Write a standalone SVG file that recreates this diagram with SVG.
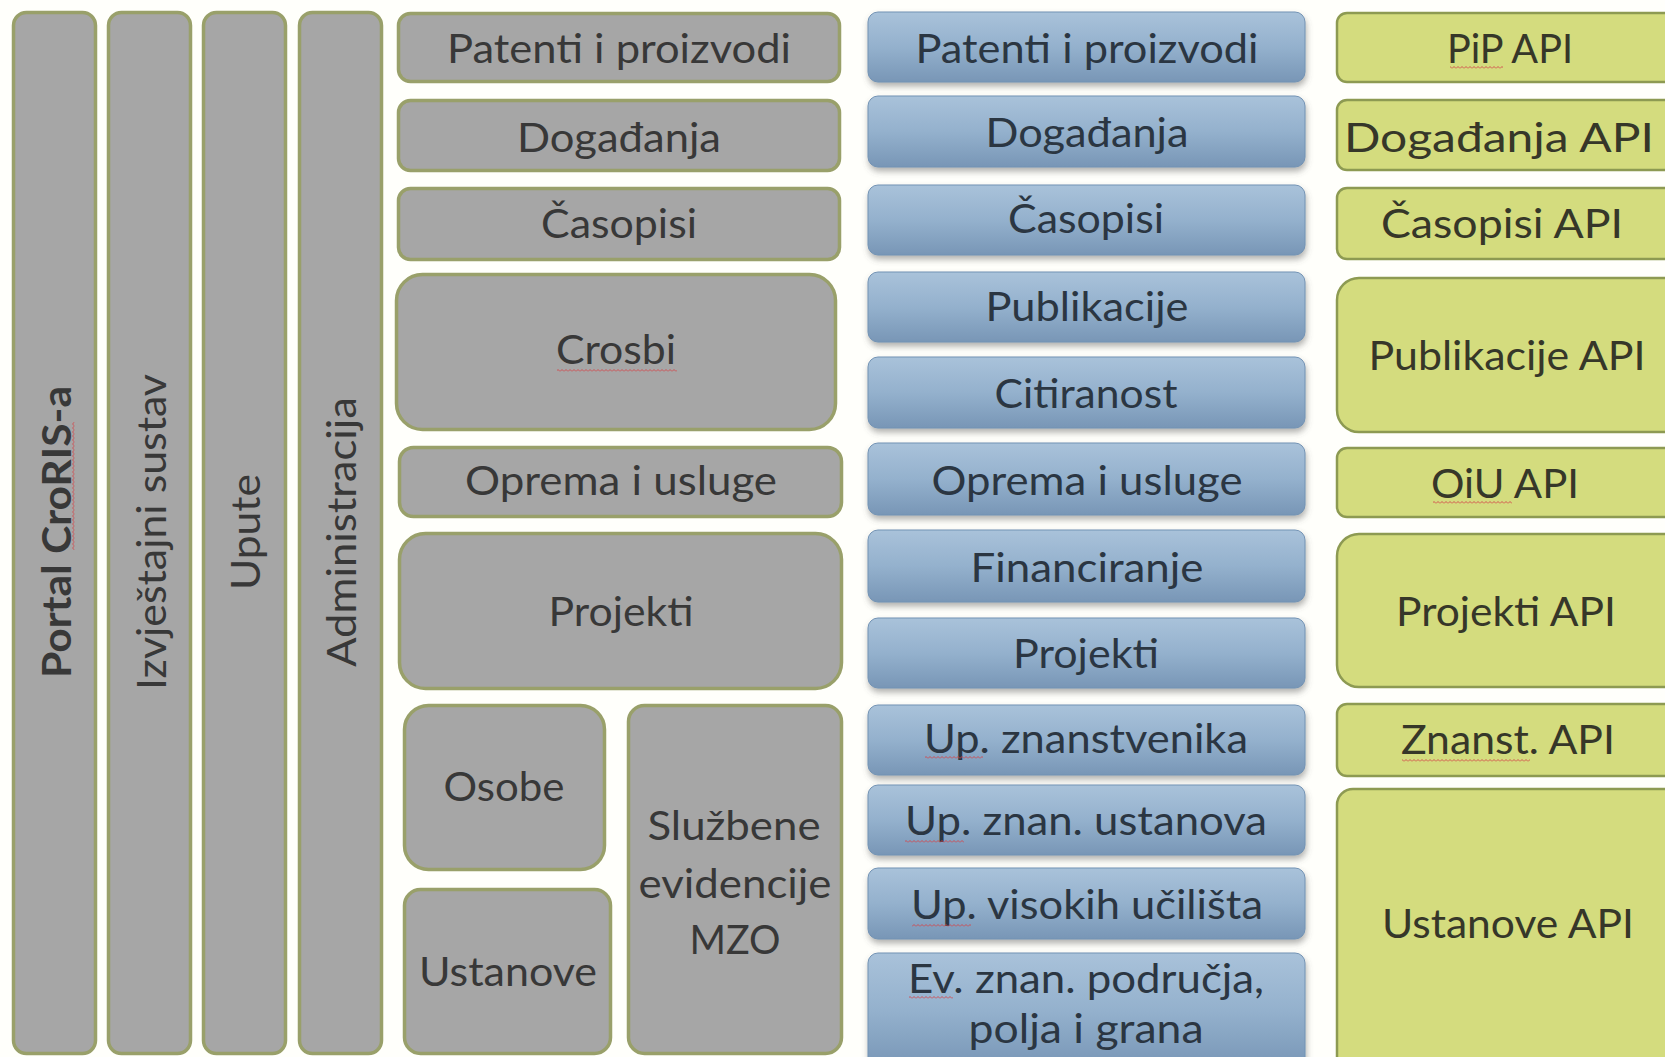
<svg xmlns="http://www.w3.org/2000/svg" width="1665" height="1057" viewBox="0 0 1665 1057">
<defs>
<style>
.g{fill:#a6a6a6;stroke:#99a06a;stroke-width:3.5}
.b{fill:url(#bg);stroke:#7393b4;stroke-width:1;filter:url(#sh)}
.y{fill:#d4dc7e;stroke:#8d9a52;stroke-width:2.5}
text{font-family:Lato,"Open Sans","Liberation Sans",sans-serif;font-size:41px;text-anchor:middle}
.tg{fill:#383838}
.tb{fill:#2b3642}
.ty{fill:#363729}
.sq{fill:url(#sqp)}
</style>
<linearGradient id="bg" x1="0" y1="0" x2="0" y2="1">
<stop offset="0" stop-color="#a9c2da"/>
<stop offset="0.5" stop-color="#94b1cd"/>
<stop offset="1" stop-color="#7896b6"/>
</linearGradient>
<filter id="sh" x="-5%" y="-10%" width="110%" height="130%">
<feDropShadow dx="1" dy="4" stdDeviation="3" flood-color="#555" flood-opacity="0.45"/>
</filter>
<pattern id="sqp" width="4" height="3" patternUnits="userSpaceOnUse">
<path d="M0 2.5 L2 0.5 L4 2.5" stroke="#d4454a" fill="none" stroke-width="0.9"/>
</pattern>
</defs>
<rect x="0" y="0" width="1665" height="1057" fill="#fffffb"/>
<g id="connectors"/>

<g id="portal"><rect class="g" x="13.5" y="12.5" width="82" height="1041" rx="13"/>
<text class="tg" transform="translate(71,532) rotate(-90)" font-weight="bold" textLength="292" lengthAdjust="spacingAndGlyphs">Portal CroRIS-a</text>
<rect class="sq" transform="translate(72,550) rotate(-90)" x="0" y="0" width="128" height="3"/></g>
<g id="izvjestajni"><rect class="g" x="108.5" y="12.5" width="82" height="1041" rx="13"/>
<text class="tg" transform="translate(166,532) rotate(-90)" textLength="316" lengthAdjust="spacingAndGlyphs">Izvještajni sustav</text></g>
<g id="upute"><rect class="g" x="203.5" y="12.5" width="82" height="1041" rx="13"/>
<text class="tg" transform="translate(260,532) rotate(-90)" textLength="116" lengthAdjust="spacingAndGlyphs">Upute</text></g>
<g id="administracija"><rect class="g" x="299.5" y="12.5" width="82" height="1041" rx="13"/>
<text class="tg" transform="translate(356,532) rotate(-90)" textLength="270" lengthAdjust="spacingAndGlyphs">Administracija</text></g>

<g id="g-patenti"><rect class="g" x="398.5" y="13.5" width="441" height="68" rx="12"/>
<text class="tg" x="619" y="63" textLength="344" lengthAdjust="spacingAndGlyphs">Patenti i proizvodi</text></g>
<g id="g-dogadjanja"><rect class="g" x="398.5" y="100.5" width="441" height="70" rx="12"/>
<text class="tg" x="619" y="152" textLength="204" lengthAdjust="spacingAndGlyphs">Događanja</text></g>
<g id="g-casopisi"><rect class="g" x="398.5" y="188.5" width="441" height="71" rx="12"/>
<text class="tg" x="619" y="238" textLength="156" lengthAdjust="spacingAndGlyphs">Časopisi</text></g>
<g id="g-crosbi"><rect class="g" x="396.5" y="274.5" width="439" height="155" rx="26"/>
<text class="tg" x="616" y="364" textLength="120" lengthAdjust="spacingAndGlyphs">Crosbi</text>
<rect class="sq" x="557" y="369" width="120" height="3"/></g>
<g id="g-oprema"><rect class="g" x="399.5" y="447.5" width="442" height="69" rx="14"/>
<text class="tg" x="621" y="495" textLength="312" lengthAdjust="spacingAndGlyphs">Oprema i usluge</text></g>
<g id="g-projekti"><rect class="g" x="399.5" y="533.5" width="442" height="155" rx="26"/>
<text class="tg" x="621" y="626" textLength="145" lengthAdjust="spacingAndGlyphs">Projekti</text></g>
<g id="g-osobe"><rect class="g" x="404.5" y="705.5" width="200" height="164" rx="24"/>
<text class="tg" x="504" y="801" textLength="121" lengthAdjust="spacingAndGlyphs">Osobe</text></g>
<g id="g-ustanove"><rect class="g" x="404.5" y="889.5" width="206" height="164" rx="16"/>
<text class="tg" x="508" y="986" textLength="178" lengthAdjust="spacingAndGlyphs">Ustanove</text></g>
<g id="g-sluzbene"><rect class="g" x="628.5" y="705.5" width="213" height="348" rx="16"/>
<text class="tg" x="734" y="840" textLength="173" lengthAdjust="spacingAndGlyphs">Službene</text>
<text class="tg" x="735" y="898" textLength="193" lengthAdjust="spacingAndGlyphs">evidencije</text>
<text class="tg" x="735" y="954" textLength="91" lengthAdjust="spacingAndGlyphs">MZO</text></g>

<g id="b-patenti"><rect class="b" x="868" y="12" width="437" height="70" rx="10"/>
<text class="tb" x="1087" y="63" textLength="343" lengthAdjust="spacingAndGlyphs">Patenti i proizvodi</text></g>
<g id="b-dogadjanja"><rect class="b" x="868" y="96" width="437" height="71" rx="10"/>
<text class="tb" x="1087" y="147" textLength="203" lengthAdjust="spacingAndGlyphs">Događanja</text></g>
<g id="b-casopisi"><rect class="b" x="868" y="185" width="437" height="70" rx="10"/>
<text class="tb" x="1086" y="233" textLength="156" lengthAdjust="spacingAndGlyphs">Časopisi</text></g>
<g id="b-publikacije"><rect class="b" x="868" y="272" width="437" height="70" rx="10"/>
<text class="tb" x="1087" y="321" textLength="203" lengthAdjust="spacingAndGlyphs">Publikacije</text></g>
<g id="b-citiranost"><rect class="b" x="868" y="357" width="437" height="71" rx="10"/>
<text class="tb" x="1086" y="408" textLength="183" lengthAdjust="spacingAndGlyphs">Citiranost</text></g>
<g id="b-oprema"><rect class="b" x="868" y="443" width="437" height="72" rx="10"/>
<text class="tb" x="1087" y="495" textLength="311" lengthAdjust="spacingAndGlyphs">Oprema i usluge</text></g>
<g id="b-financiranje"><rect class="b" x="868" y="530" width="437" height="72" rx="10"/>
<text class="tb" x="1087" y="582" textLength="233" lengthAdjust="spacingAndGlyphs">Financiranje</text></g>
<g id="b-projekti"><rect class="b" x="868" y="618" width="437" height="70" rx="10"/>
<text class="tb" x="1086" y="668" textLength="146" lengthAdjust="spacingAndGlyphs">Projekti</text></g>
<g id="b-upznanstvenika"><rect class="b" x="868" y="705" width="437" height="70" rx="10"/>
<text class="tb" x="1086" y="753" textLength="324" lengthAdjust="spacingAndGlyphs">Up. znanstvenika</text>
<rect class="sq" x="925" y="756" width="58" height="3"/></g>
<g id="b-upustanova"><rect class="b" x="868" y="785" width="437" height="70" rx="10"/>
<text class="tb" x="1086" y="835" textLength="362" lengthAdjust="spacingAndGlyphs">Up. znan. ustanova</text>
<rect class="sq" x="905" y="840" width="59" height="3"/></g>
<g id="b-upvisokih"><rect class="b" x="868" y="868" width="437" height="71" rx="10"/>
<text class="tb" x="1087" y="919" textLength="352" lengthAdjust="spacingAndGlyphs">Up. visokih učilišta</text>
<rect class="sq" x="912" y="924" width="59" height="3"/></g>
<g id="b-ev"><rect class="b" x="868" y="953" width="437" height="115" rx="10"/>
<text class="tb" x="1086" y="993" textLength="356" lengthAdjust="spacingAndGlyphs">Ev. znan. područja,</text>
<text class="tb" x="1086" y="1043" textLength="235" lengthAdjust="spacingAndGlyphs">polja i grana</text>
<rect class="sq" x="909" y="996" width="44" height="3"/></g>

<g id="api-pip"><rect class="y" x="1337" y="13" width="350" height="69" rx="10"/>
<text class="ty" x="1510" y="63" textLength="126" lengthAdjust="spacingAndGlyphs">PiP API</text>
<rect class="sq" x="1450" y="66" width="53" height="3"/></g>
<g id="api-dogadjanja"><rect class="y" x="1337" y="100" width="350" height="70" rx="10"/>
<text class="ty" x="1499" y="152" textLength="310" lengthAdjust="spacingAndGlyphs">Događanja API</text></g>
<g id="api-casopisi"><rect class="y" x="1337" y="188" width="350" height="71" rx="10"/>
<text class="ty" x="1502" y="238" textLength="242" lengthAdjust="spacingAndGlyphs">Časopisi API</text></g>
<g id="api-publikacije"><rect class="y" x="1337" y="278" width="350" height="154" rx="22"/>
<text class="ty" x="1507" y="370" textLength="277" lengthAdjust="spacingAndGlyphs">Publikacije API</text></g>
<g id="api-oiu"><rect class="y" x="1337" y="448" width="350" height="69" rx="10"/>
<text class="ty" x="1505" y="498" textLength="148" lengthAdjust="spacingAndGlyphs">OiU API</text>
<rect class="sq" x="1433" y="501" width="79" height="3"/></g>
<g id="api-projekti"><rect class="y" x="1337" y="534" width="350" height="153" rx="22"/>
<text class="ty" x="1506" y="626" textLength="220" lengthAdjust="spacingAndGlyphs">Projekti API</text></g>
<g id="api-znanst"><rect class="y" x="1337" y="704" width="350" height="72" rx="10"/>
<text class="ty" x="1508" y="754" textLength="214" lengthAdjust="spacingAndGlyphs">Znanst. API</text>
<rect class="sq" x="1402" y="759" width="128" height="3"/></g>
<g id="api-ustanove"><rect class="y" x="1337" y="789" width="350" height="285" rx="16"/>
<text class="ty" x="1508" y="938" textLength="252" lengthAdjust="spacingAndGlyphs">Ustanove API</text></g>
</svg>
